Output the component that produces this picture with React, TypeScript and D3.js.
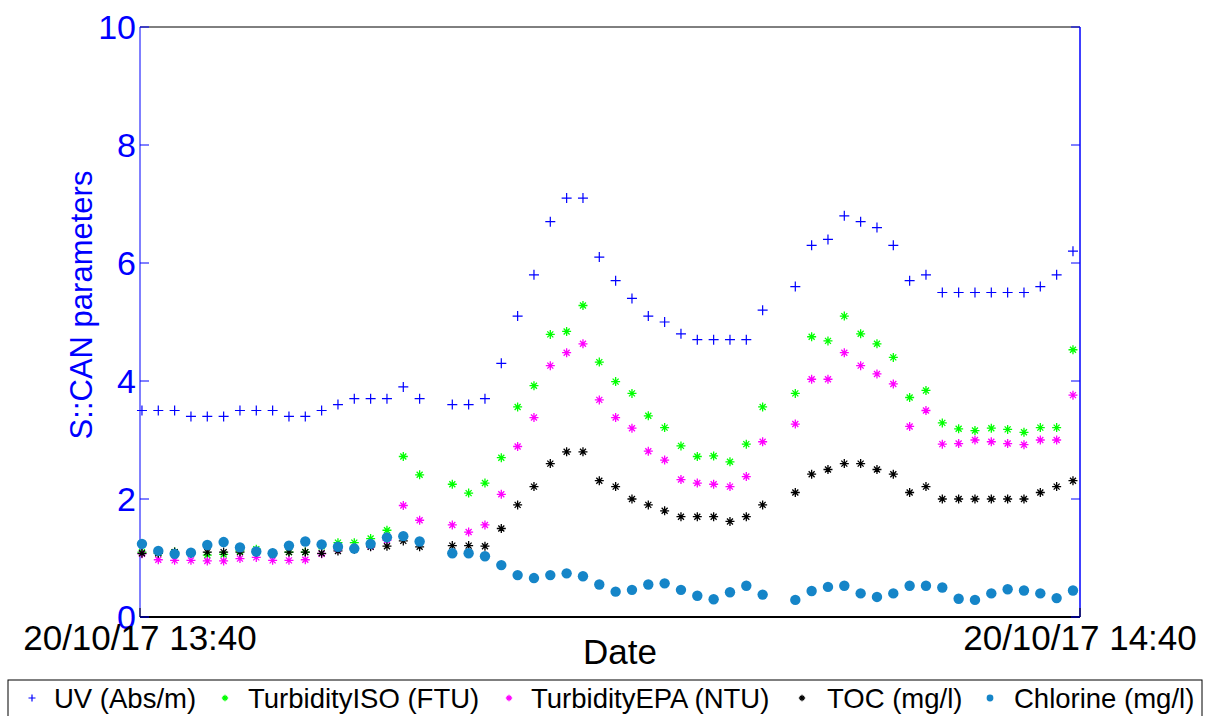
import React from "react";
import * as d3 from "d3";

const UV = [3.5,3.5,3.5,3.4,3.4,3.4,3.5,3.5,3.5,3.4,3.4,3.5,3.6,3.7,3.7,3.7,3.9,3.7,null,3.6,3.6,3.7,4.3,5.1,5.8,6.7,7.1,7.1,6.1,5.7,5.4,5.1,5.0,4.8,4.7,4.7,4.7,4.7,5.2,null,5.6,6.3,6.4,6.8,6.7,6.6,6.3,5.7,5.8,5.5,5.5,5.5,5.5,5.5,5.5,5.6,5.8,6.2];
const TurbISO = [1.1,1.08,1.1,1.08,1.05,1.06,1.12,1.15,1.08,1.1,1.1,1.2,1.26,1.26,1.33,1.47,2.72,2.41,null,2.25,2.10,2.27,2.70,3.56,3.92,4.79,4.84,5.28,4.32,3.99,3.79,3.41,3.21,2.90,2.72,2.73,2.63,2.93,3.56,null,3.79,4.75,4.68,5.10,4.80,4.63,4.40,3.72,3.84,3.29,3.19,3.16,3.20,3.18,3.13,3.21,3.21,4.53];
const TurbEPA = [1.07,0.97,0.96,0.96,0.95,0.95,0.99,1.01,0.96,0.96,0.97,1.07,1.15,1.17,1.2,1.30,1.89,1.64,null,1.56,1.44,1.56,2.08,2.89,3.38,4.26,4.48,4.63,3.68,3.38,3.20,2.81,2.66,2.33,2.27,2.25,2.21,2.38,2.97,null,3.27,4.03,4.03,4.48,4.26,4.12,3.95,3.23,3.50,2.93,2.94,3.0,2.97,2.94,2.92,3.0,3.0,3.76];
const TOC = [1.08,1.08,1.1,1.08,1.1,1.1,1.1,1.1,1.08,1.1,1.1,1.08,1.12,1.15,1.19,1.20,1.29,1.19,null,1.21,1.21,1.20,1.50,1.90,2.21,2.60,2.80,2.80,2.31,2.21,2.0,1.90,1.80,1.70,1.70,1.70,1.62,1.70,1.90,null,2.11,2.42,2.50,2.60,2.60,2.50,2.42,2.11,2.21,2.0,2.0,2.0,2.0,2.0,2.0,2.11,2.21,2.31];
const Chlorine = [1.24,1.12,1.07,1.09,1.22,1.27,1.18,1.11,1.08,1.21,1.28,1.23,1.19,1.16,1.24,1.35,1.37,1.28,null,1.08,1.08,1.03,0.88,0.71,0.66,0.71,0.74,0.69,0.55,0.43,0.46,0.55,0.57,0.46,0.36,0.30,0.42,0.53,0.38,null,0.29,0.44,0.51,0.53,0.40,0.34,0.40,0.53,0.53,0.50,0.31,0.29,0.40,0.47,0.45,0.40,0.32,0.45];

const xTickLabels = ["20/10/17 13:40", "20/10/17 14:40"];
const yTicks = [0, 2, 4, 6, 8, 10];

type S = { name: string; data: (number | null)[]; color: string; marker: "plus" | "star" | "dot" };
const series: S[] = [
  { name: "UV (Abs/m)", data: UV, color: "#0000ff", marker: "plus" },
  { name: "TurbidityISO (FTU)", data: TurbISO, color: "#00ff00", marker: "star" },
  { name: "TurbidityEPA (NTU)", data: TurbEPA, color: "#ff00ff", marker: "star" },
  { name: "TOC (mg/l)", data: TOC, color: "#000000", marker: "star" },
  { name: "Chlorine (mg/l)", data: Chlorine, color: "#1585c8", marker: "dot" },
];

const FONT = "'Liberation Sans', Arial, sans-serif";

function drawMarker(kind: string, x: number, y: number, color: string, key: string | number, scale = 1) {
  if (kind === "plus") {
    const a = 5 * scale;
    return (
      <path key={key} d={`M${x - a},${y}H${x + a}M${x},${y - a}V${y + a}`} stroke={color} strokeWidth={1.2} fill="none" />
    );
  }
  if (kind === "star") {
    const a = 4.5 * scale;
    const b = 3 * scale;
    return (
      <path
        key={key}
        d={`M${x - a},${y}H${x + a}M${x},${y - a}V${y + a}M${x - b},${y - b}L${x + b},${y + b}M${x - b},${y + b}L${x + b},${y - b}`}
        stroke={color}
        strokeWidth={1.3}
        fill="none"
      />
    );
  }
  return <circle key={key} cx={x} cy={y} r={5.2 * scale} fill={color} />;
}

export default function App() {
  const W = 1206, H = 716;
  const left = 140, right = 1080, top = 27, bottom = 617;
  const n = UV.length;
  const x = d3.scaleLinear().domain([-0.12, n - 1 + 0.43]).range([left, right]);
  const y = d3.scaleLinear().domain([0, 10]).range([bottom, top]);
  const [x0, x1] = x.domain();

  const legendX = [32, 225, 509, 802, 990];
  const legendTextX = [54, 248, 531, 827, 1014];

  return (
    <svg width={W} height={H} style={{ position: "absolute", left: 0, top: 0, background: "#fff" }} fontFamily={FONT}>
      <rect x={0} y={0} width={W} height={H} fill="#fff" />
      <line x1={left} y1={top} x2={right} y2={top} stroke="#000" strokeWidth={1} />
      <line x1={left} y1={bottom} x2={right} y2={bottom} stroke="#000" strokeWidth={2} />
      <line x1={left} y1={top} x2={left} y2={bottom} stroke="#0000ff" strokeWidth={1} />
      <line x1={right} y1={top} x2={right} y2={bottom} stroke="#0000ff" strokeWidth={1.5} />
      {yTicks.map((t) => (
        <g key={t}>
          <line x1={left} x2={left + 9} y1={y(t)} y2={y(t)} stroke="#0000ff" strokeWidth={1} />
          <line x1={right - 9} x2={right} y1={y(t)} y2={y(t)} stroke="#0000ff" strokeWidth={1} />
          <text x={left - 4} y={y(t)} dy="0.36em" textAnchor="end" fontSize={34} fill="#0000ff">
            {t}
          </text>
        </g>
      ))}
      {[x0, x1].map((d, i) => (
        <g key={i}>
          <line x1={x(d)} x2={x(d)} y1={bottom} y2={bottom - 9} stroke="#000" strokeWidth={1} />
          <text x={x(d)} y={650} textAnchor="middle" fontSize={35} fill="#000">
            {xTickLabels[i]}
          </text>
        </g>
      ))}
      <text x={620} y={664} textAnchor="middle" fontSize={35} fill="#000">
        Date
      </text>
      <text transform={`translate(92,305) rotate(-90)`} textAnchor="middle" fontSize={31} fill="#0000ff">
        S::CAN parameters
      </text>
      {series.map((s, si) => (
        <g key={si}>
          {s.data.map((v, i) => (v == null ? null : drawMarker(s.marker, x(i), y(v), s.color, i)))}
        </g>
      ))}
      <rect x={8} y={680} width={1194} height={44} fill="#fff" stroke="#000" strokeWidth={1} />
      {series.map((s, i) => (
        <g key={i}>
          {drawMarker(s.marker, legendX[i], 698, s.color, "m", s.marker === "dot" ? 0.65 : 0.7)}
          <text x={legendTextX[i]} y={708} fontSize={27.5} fill="#000">
            {s.name}
          </text>
        </g>
      ))}
    </svg>
  );
}
